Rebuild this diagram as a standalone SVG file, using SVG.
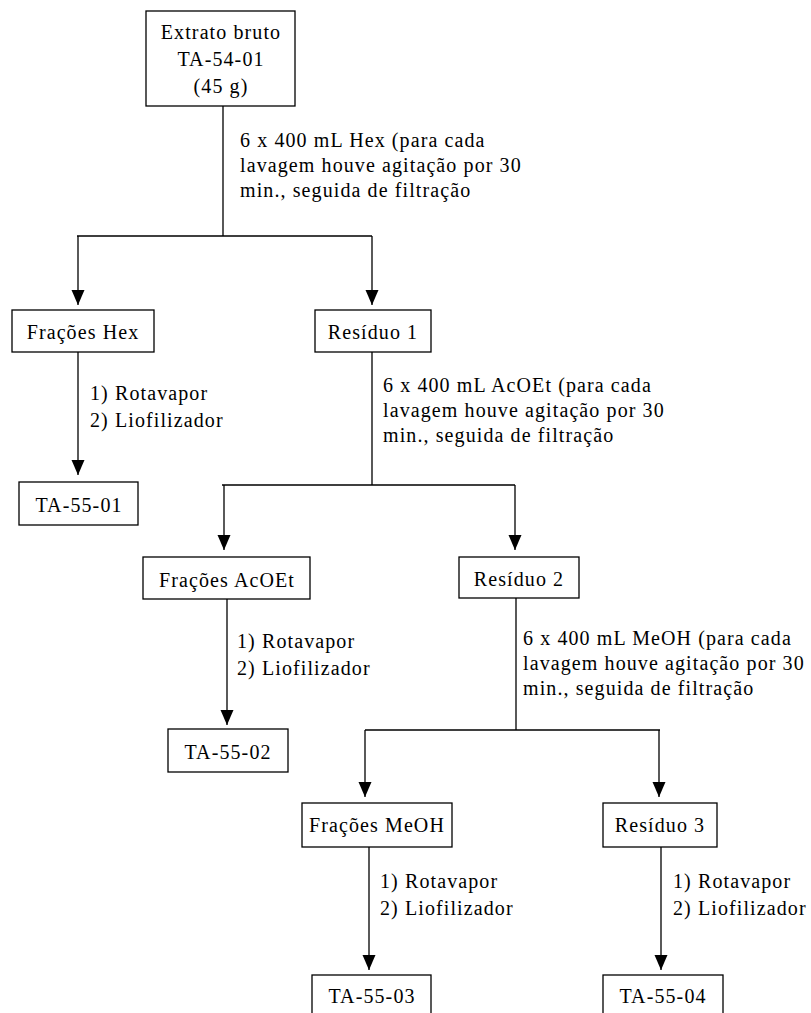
<svg xmlns="http://www.w3.org/2000/svg" width="811" height="1013" viewBox="0 0 811 1013" font-family="'Liberation Serif', 'DejaVu Serif', serif">
<defs>
<style>
.b{fill:#fff;stroke:#000;stroke-width:1.3}
.t{font-family:'Liberation Serif','DejaVu Serif',serif;font-size:20px;letter-spacing:1.1px;fill:#000}
.c{text-anchor:middle}
.l{fill:none;stroke:#000;stroke-width:1.3}
</style>
<marker id="ah" markerUnits="userSpaceOnUse" markerWidth="16" markerHeight="14" refX="15" refY="6.5" orient="auto"><path d="M0,0 L15,6.5 L0,13 Z" fill="#000"/></marker>
</defs>
<rect width="811" height="1013" fill="#fff"/>
<g id="connectors">
<path class="l" d="M223,106 V236 M77,236 H372"/>
<path class="l" d="M78,236 V305" marker-end="url(#ah)"/>
<path class="l" d="M372,236 V305" marker-end="url(#ah)"/>
<path class="l" d="M78,352 V475" marker-end="url(#ah)"/>
<path class="l" d="M372,352 V485 M222,485 H515"/>
<path class="l" d="M224,485 V550" marker-end="url(#ah)"/>
<path class="l" d="M515,485 V550" marker-end="url(#ah)"/>
<path class="l" d="M227,599 V725" marker-end="url(#ah)"/>
<path class="l" d="M516,598 V730 M365,730 H660"/>
<path class="l" d="M365,730 V797" marker-end="url(#ah)"/>
<path class="l" d="M659,730 V797" marker-end="url(#ah)"/>
<path class="l" d="M369,847 V970" marker-end="url(#ah)"/>
<path class="l" d="M661,847 V970" marker-end="url(#ah)"/>
<text class="t" x="240" y="147">6 x 400 mL Hex (para cada</text>
<text class="t" x="240" y="172">lavagem houve agitação por 30</text>
<text class="t" x="240" y="197">min., seguida de filtração</text>
<text class="t" x="90" y="400">1) Rotavapor</text>
<text class="t" x="90" y="427">2) Liofilizador</text>
<text class="t" x="383" y="392">6 x 400 mL AcOEt (para cada</text>
<text class="t" x="383" y="417">lavagem houve agitação por 30</text>
<text class="t" x="383" y="442">min., seguida de filtração</text>
<text class="t" x="237" y="648">1) Rotavapor</text>
<text class="t" x="237" y="675">2) Liofilizador</text>
<text class="t" x="523" y="645">6 x 400 mL MeOH (para cada</text>
<text class="t" x="523" y="670">lavagem houve agitação por 30</text>
<text class="t" x="523" y="695">min., seguida de filtração</text>
<text class="t" x="380" y="888">1) Rotavapor</text>
<text class="t" x="380" y="915">2) Liofilizador</text>
<text class="t" x="673" y="888">1) Rotavapor</text>
<text class="t" x="673" y="915">2) Liofilizador</text>
</g>
<g id="extrato">
<rect class="b" x="146" y="11" width="149" height="95"/>
<text class="t c" x="221" y="39">Extrato bruto</text>
<text class="t c" x="221" y="66">TA-54-01</text>
<text class="t c" x="221" y="93">(45 g)</text>
</g>
<g id="fracoes-hex">
<rect class="b" x="12" y="310" width="142" height="42"/>
<text class="t c" x="83" y="339">Frações Hex</text>
</g>
<g id="residuo-1">
<rect class="b" x="315" y="310" width="116" height="42"/>
<text class="t c" x="373" y="339">Resíduo 1</text>
</g>
<g id="ta-55-01">
<rect class="b" x="19" y="482" width="119" height="43"/>
<text class="t c" x="79" y="512">TA-55-01</text>
</g>
<g id="fracoes-acoet">
<rect class="b" x="143" y="557" width="167" height="42"/>
<text class="t c" x="227" y="587">Frações AcOEt</text>
</g>
<g id="residuo-2">
<rect class="b" x="459" y="557" width="120" height="41"/>
<text class="t c" x="519" y="586">Resíduo 2</text>
</g>
<g id="ta-55-02">
<rect class="b" x="168" y="729" width="120" height="43"/>
<text class="t c" x="228" y="759">TA-55-02</text>
</g>
<g id="fracoes-meoh">
<rect class="b" x="302" y="803" width="150" height="44"/>
<text class="t c" x="377" y="832">Frações MeOH</text>
</g>
<g id="residuo-3">
<rect class="b" x="603" y="803" width="114" height="44"/>
<text class="t c" x="660" y="832">Resíduo 3</text>
</g>
<g id="ta-55-03">
<rect class="b" x="312" y="975" width="119" height="45"/>
<text class="t c" x="372" y="1003">TA-55-03</text>
</g>
<g id="ta-55-04">
<rect class="b" x="603" y="975" width="120" height="45"/>
<text class="t c" x="663" y="1003">TA-55-04</text>
</g>
</svg>
